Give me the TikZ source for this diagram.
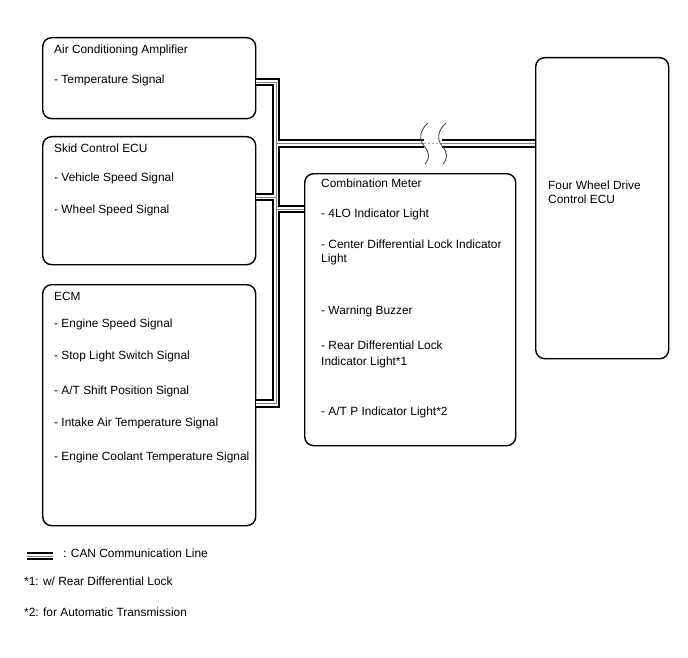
\documentclass[tikz,border=0pt]{standalone}
\usepackage{fontspec}
\setmainfont{Liberation Sans}

\begin{document}
\begin{tikzpicture}[x=1pt,y=-1pt,
    ecu/.style={draw, line width=1.4pt, rounded corners=9pt, anchor=north west, inner sep=0pt},
    can/.style={draw=black, line width=8.4pt, line join=miter,
      postaction={draw=white, line width=4.8pt},
      postaction={draw=black!50, line width=0.9pt}},
    brk/.style={draw=black!70, line width=0.9pt}]

        \useasboundingbox (0,0) rectangle (688,658);

        % bus points
        \coordinate (top)  at (276,82);
        \coordinate (bot)  at (276,403.5);
        \coordinate (tap)  at (276,143.5);
        \coordinate (sk)   at (276,197);
        \coordinate (cm)   at (276,209);
        \coordinate (brkL) at (424,143.5);
        \coordinate (brkR) at (442,143.5);
        \coordinate (lgA)  at (27,556);
        \coordinate (lgB)  at (53,556);

        \begin{scope}[every node/.style={ecu}]
          \node[minimum width=213pt, minimum height=81pt]  (ac)    at (42,37)  {};
          \node[minimum width=213pt, minimum height=128pt] (skid)  at (42,136) {};
          \node[minimum width=213pt, minimum height=241pt] (ecm)   at (42,284) {};
          \node[minimum width=211pt, minimum height=272pt] (meter) at (304,173) {};
          \node[minimum width=133pt, minimum height=301pt] (fwd)   at (535,57) {};
        \end{scope}

        % CAN lines
        \draw[can] (ac.east |- top) -- (top) -- (bot) -- (ecm.east |- bot)
                   (skid.east |- sk) -- (sk)
                   (cm) -- (meter.west |- cm)
                   (tap) -- (brkL)
                   (brkR) -- (fwd.west |- tap);
        \draw[black!35, line width=0.8pt, dash pattern=on 1.5pt off 2.5pt] (brkL) -- (brkR);
        \draw[can] (lgA) -- (lgB);

        % break marks
        \draw[brk] (428,123) .. controls (419,131) and (419,140) .. (424,146)
                             .. controls (430,153) and (430,158) .. (425,164);
        \draw[brk] (446,123) .. controls (437,131) and (437,140) .. (442,146)
                             .. controls (448,153) and (448,158) .. (443,164);

        \begin{scope}[every node/.style={anchor=base west, inner sep=0pt, font=\fontsize{11.9}{14}\selectfont}]
          \node (ac1) at (54,54)  {Air Conditioning Amplifier};
          \node (ac2) at (54,84)  {- Temperature Signal};

          \node (sk1) at (54,153) {Skid Control ECU};
          \node (sk2) at (54,181) {- Vehicle Speed Signal};
          \node (sk3) at (54,213) {- Wheel Speed Signal};

          \node (ecm1) at (54,300) {ECM};
          \node (ecm2) at (54,327) {- Engine Speed Signal};
          \node (ecm3) at (54,359) {- Stop Light Switch Signal};
          \node (ecm4) at (54,394) {- A/T Shift Position Signal};
          \node (ecm5) at (54,426) {- Intake Air Temperature Signal};
          \node (ecm6) at (54,460) {- Engine Coolant Temperature Signal};

          \node (cm1) at (321,187) {Combination Meter};
          \node (cm2) at (321,217) {- 4LO Indicator Light};
          \node (cm3) at (321,248) {- Center Differential Lock Indicator};
          \node (cm4) at (321,262) {Light};
          \node (cm5) at (321,314) {- Warning Buzzer};
          \node (cm6) at (321,349) {- Rear Differential Lock};
          \node (cm7) at (321,365) {Indicator Light*1};
          \node (cm8) at (321,415) {- A/T P Indicator Light*2};

          \node (fw1) at (548,189) {Four Wheel Drive};
          \node (fw2) at (548,203) {Control ECU};

          \node (lg1) at (63,557) {: CAN Communication Line};
          \node (lg2) at (24,585) {*1: w/ Rear Differential Lock};
          \node (lg3) at (24,616) {*2: for Automatic Transmission};
        \end{scope}

      \end{tikzpicture}
\end{document}
